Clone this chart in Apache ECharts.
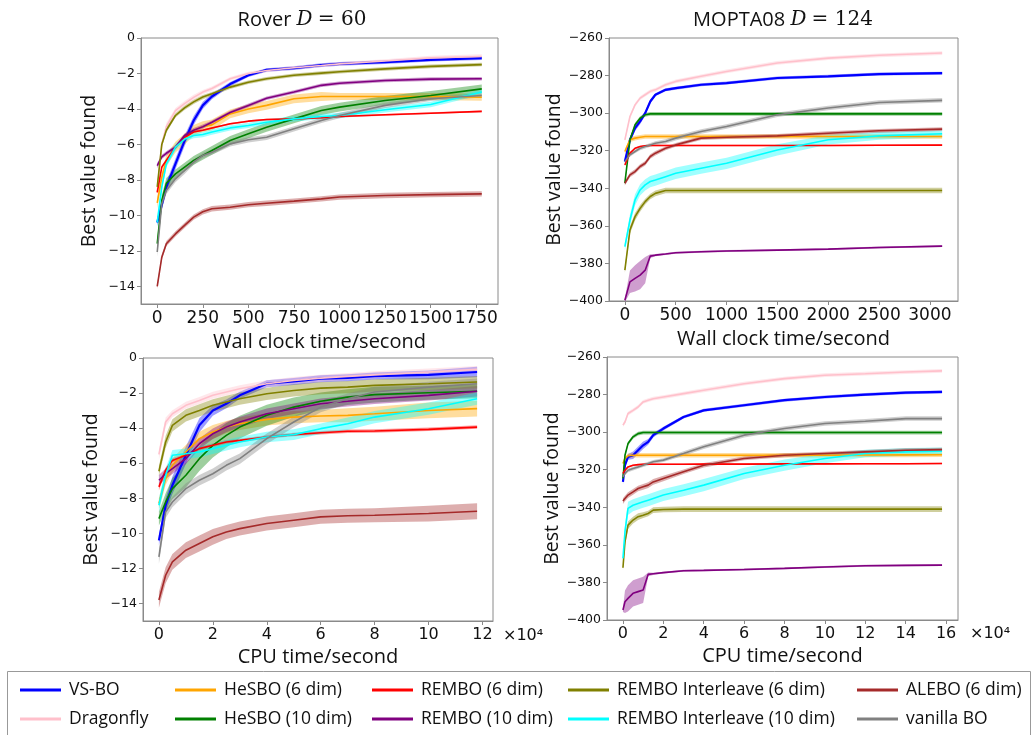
<!DOCTYPE html>
<html><head><meta charset="utf-8">
<script src="https://cdn.jsdelivr.net/npm/echarts@6/dist/echarts.min.js"></script>
<style>html,body{margin:0;padding:0;background:#fff}#c{width:1034px;height:735px}</style>
</head><body><div id="c"></div><script>
// ---------- names & colours ----------
const methodNames = ['VS-BO','Dragonfly','HeSBO (6 dim)','HeSBO (10 dim)','REMBO (6 dim)','REMBO (10 dim)','REMBO Interleave (6 dim)','REMBO Interleave (10 dim)','ALEBO (6 dim)','vanilla BO'];
const methodColors = ['#0000ff','#ffc0cb','#ffa500','#008000','#ff0000','#800080','#808000','#00ffff','#a52a2a','#808080'];

// ---------- Rover, wall clock ----------
const roverWallX = [0,25,50,100,150,200,250,300,400,500,600,750,900,1000,1250,1500,1780];
const roverWallMean = [
  [-10.4,-9.4,-8.4,-7.1,-5.8,-4.65,-3.8,-3.3,-2.6,-2.1,-1.8,-1.7,-1.53,-1.46,-1.36,-1.23,-1.14],
  [-8.7,-6.0,-5.0,-4.1,-3.7,-3.35,-3.05,-2.85,-2.3,-2.0,-1.83,-1.68,-1.55,-1.46,-1.3,-1.12,-1.04],
  [-9.3,-7.85,-6.9,-6.15,-5.7,-5.2,-5.0,-4.9,-4.28,-4.0,-3.8,-3.43,-3.3,-3.3,-3.3,-3.3,-3.34],
  [-11.6,-9.16,-8.2,-7.66,-7.28,-6.9,-6.62,-6.34,-5.78,-5.4,-5.03,-4.56,-4.09,-3.9,-3.52,-3.24,-2.87],
  [-8.7,-7.28,-6.9,-6.15,-5.6,-5.3,-5.2,-5.08,-4.84,-4.69,-4.6,-4.56,-4.5,-4.43,-4.33,-4.24,-4.14],
  [-7.2,-6.7,-6.5,-6.15,-5.5,-5.2,-5.0,-4.75,-4.2,-3.8,-3.4,-3.05,-2.67,-2.55,-2.4,-2.32,-2.3],
  [-8.4,-6.0,-5.2,-4.37,-3.94,-3.6,-3.33,-3.15,-2.77,-2.5,-2.3,-2.1,-1.98,-1.9,-1.74,-1.6,-1.5],
  [-10.4,-8.4,-7.1,-6.15,-5.7,-5.5,-5.44,-5.3,-5.07,-4.93,-4.75,-4.56,-4.43,-4.37,-4.05,-3.75,-3.05],
  [-14.0,-12.36,-11.6,-11.05,-10.57,-10.1,-9.8,-9.63,-9.54,-9.4,-9.32,-9.2,-9.07,-8.97,-8.88,-8.83,-8.79],
  [-12.07,-9.35,-8.6,-7.94,-7.47,-7.0,-6.62,-6.44,-5.97,-5.74,-5.6,-5.12,-4.65,-4.37,-3.8,-3.43,-3.24]
];
const roverWallSpread = [
  [0.2,0.3,0.3,0.3,0.3,0.25,0.2,0.15,0.12,0.1,0.1,0.1,0.1,0.1,0.1,0.1,0.1],
  [0.2,0.2,0.2,0.15,0.15,0.15,0.12,0.12,0.1,0.1,0.1,0.1,0.1,0.1,0.1,0.12,0.12],
  [0.3,0.3,0.3,0.3,0.3,0.3,0.3,0.3,0.25,0.25,0.25,0.25,0.25,0.2,0.2,0.2,0.2],
  [0.3,0.3,0.3,0.25,0.25,0.25,0.25,0.25,0.25,0.25,0.25,0.25,0.25,0.25,0.25,0.25,0.25],
  [0.1,0.1,0.08,0.06,0.06,0.05,0.05,0.05,0.05,0.05,0.05,0.05,0.05,0.05,0.05,0.05,0.05],
  [0.15,0.12,0.12,0.12,0.12,0.12,0.12,0.1,0.1,0.1,0.1,0.1,0.1,0.1,0.1,0.1,0.1],
  [0.15,0.15,0.15,0.12,0.12,0.12,0.12,0.1,0.1,0.1,0.1,0.1,0.1,0.1,0.1,0.1,0.1],
  [0.25,0.25,0.2,0.2,0.15,0.15,0.15,0.15,0.15,0.15,0.15,0.15,0.15,0.15,0.15,0.15,0.15],
  [0.15,0.15,0.15,0.15,0.15,0.15,0.15,0.15,0.15,0.15,0.15,0.15,0.15,0.15,0.15,0.15,0.15],
  [0.25,0.25,0.2,0.2,0.2,0.15,0.15,0.15,0.15,0.15,0.15,0.15,0.15,0.15,0.15,0.12,0.12]
];

// ---------- MOPTA08, wall clock ----------
const moptaWallX = [0,50,100,150,200,250,300,400,500,750,1000,1500,2000,2500,3120];
const moptaWallMean = [
  [-325.8,-314.2,-308,-304.4,-300,-293.8,-290.2,-287.6,-286.7,-284.9,-284,-281.3,-280.4,-279.2,-278.7],
  [-314.2,-301.8,-295.6,-292,-290.2,-288.4,-287.6,-284.9,-283.1,-280.4,-277.8,-273.3,-270.7,-269.2,-268],
  [-320.4,-314.2,-313.3,-312.8,-312.4,-312.4,-312.4,-312.4,-312.4,-312.4,-312.4,-312.4,-312.4,-312.4,-312.4],
  [-337.3,-314.2,-306.2,-302.7,-300.9,-300.4,-300.4,-300.4,-300.4,-300.4,-300.4,-300.4,-300.4,-300.4,-300.4],
  [-327.6,-321.3,-318.7,-317.8,-317.4,-317.2,-317.2,-317.2,-317.2,-317.2,-317.2,-317.2,-317.2,-317.1,-317.0],
  [-399.6,-389.8,-388,-386.2,-383.6,-376.1,-375.6,-375,-374.3,-373.8,-373.4,-372.9,-372.4,-371.5,-370.8],
  [-383.6,-362.2,-355.1,-350.7,-347.1,-344.4,-342.7,-341.2,-341.2,-341.2,-341.2,-341.2,-341.2,-341.2,-341.2],
  [-371.1,-356.9,-346.2,-340.9,-338.2,-336.4,-335.6,-333.8,-332,-329.3,-326.7,-319.6,-314.2,-312.1,-311],
  [-337.3,-332.9,-331.1,-328.4,-326.7,-323.1,-321.3,-318.7,-316.9,-313.3,-312.8,-312.1,-310.7,-309.4,-308.5],
  [-325.8,-322.2,-320.4,-318.7,-317.8,-316.9,-316,-315.1,-313.3,-309.8,-307.1,-300.9,-297.3,-294.3,-293.2]
];
const moptaWallSpread = [
  [1.5,1.5,1.5,1.5,1.2,1.0,0.8,0.8,0.8,0.8,0.8,0.8,0.8,0.8,0.8],
  [1.0,1.0,1.0,1.0,1.0,1.0,1.0,1.0,1.0,1.0,1.0,1.0,1.0,1.0,1.0],
  [1.2,1.2,1.2,1.2,1.2,1.2,1.2,1.2,1.2,1.2,1.2,1.2,1.2,1.2,1.2],
  [1.0,1.0,1.0,1.0,1.0,1.0,1.0,1.0,1.0,1.0,1.0,1.0,1.0,1.0,1.0],
  [0.5,0.4,0.4,0.4,0.4,0.4,0.4,0.4,0.4,0.4,0.4,0.4,0.4,0.4,0.4],
  [1.0,6.0,7.0,7.5,7.0,1.0,0.6,0.5,0.5,0.5,0.5,0.5,0.5,0.5,0.5],
  [1.5,2.0,2.0,1.8,1.5,1.5,1.5,1.5,1.5,1.5,1.5,1.5,1.5,1.5,1.5],
  [2.0,3.0,3.0,3.0,3.0,3.0,3.0,3.0,3.0,3.0,3.0,3.0,2.5,2.0,1.8],
  [1.2,1.2,1.2,1.2,1.2,1.2,1.2,1.0,1.0,1.0,1.0,1.0,1.0,1.0,1.0],
  [1.0,1.0,1.0,1.0,1.0,1.0,1.0,1.2,1.2,1.2,1.2,1.2,1.2,1.2,1.2]
];

// ---------- Rover, CPU time ----------
const roverCpuX = [0,2500,5000,10000,15000,20000,25000,30000,40000,50000,60000,70000,80000,100000,118000];
const roverCpuMean = [
  [-10.4,-8.4,-7.26,-5.55,-3.84,-2.99,-2.61,-2.13,-1.47,-1.34,-1.18,-1.13,-1.03,-0.96,-0.8],
  [-5.5,-3.65,-3.18,-2.7,-2.42,-2.13,-1.94,-1.75,-1.47,-1.28,-1.15,-1.05,-0.96,-0.8,-0.65],
  [-8.3,-6.88,-6.12,-5.36,-4.6,-4.22,-3.94,-3.75,-3.5,-3.37,-3.31,-3.27,-3.18,-2.99,-2.89],
  [-9.16,-8.21,-7.45,-6.69,-5.74,-4.98,-4.41,-3.94,-3.27,-2.8,-2.47,-2.23,-2.09,-1.98,-1.9],
  [-7.35,-6.4,-5.84,-5.55,-5.17,-4.98,-4.79,-4.7,-4.51,-4.37,-4.26,-4.18,-4.16,-4.07,-3.94],
  [-6.97,-6.6,-6.31,-5.74,-4.89,-4.32,-3.94,-3.65,-3.18,-2.89,-2.61,-2.47,-2.32,-2.13,-1.9],
  [-6.46,-4.79,-3.84,-3.27,-2.99,-2.7,-2.51,-2.32,-2.04,-1.85,-1.72,-1.66,-1.56,-1.47,-1.37],
  [-8.4,-6.69,-5.55,-5.46,-5.36,-5.17,-4.98,-4.79,-4.51,-4.37,-4.03,-3.75,-3.37,-2.89,-2.32],
  [-13.8,-12.39,-11.63,-10.96,-10.58,-10.2,-9.92,-9.73,-9.44,-9.25,-9.06,-9.0,-8.97,-8.87,-8.74],
  [-11.34,-8.78,-8.21,-7.45,-6.97,-6.6,-6.12,-5.74,-4.6,-3.65,-2.8,-2.32,-1.94,-1.66,-1.47]
];
const roverCpuSpread = [
  [0.3,0.4,0.5,0.5,0.4,0.3,0.25,0.2,0.2,0.2,0.2,0.2,0.2,0.25,0.3],
  [0.3,0.25,0.2,0.2,0.2,0.2,0.2,0.2,0.2,0.2,0.2,0.2,0.2,0.2,0.2],
  [0.3,0.35,0.4,0.4,0.4,0.4,0.35,0.35,0.35,0.35,0.35,0.4,0.4,0.45,0.45],
  [0.4,0.5,0.6,0.7,0.7,0.7,0.7,0.65,0.6,0.55,0.5,0.45,0.45,0.4,0.4],
  [0.2,0.15,0.12,0.1,0.1,0.1,0.1,0.1,0.1,0.1,0.1,0.1,0.1,0.1,0.1],
  [0.3,0.3,0.3,0.3,0.3,0.3,0.3,0.3,0.3,0.3,0.3,0.3,0.3,0.3,0.3],
  [0.3,0.35,0.35,0.35,0.35,0.35,0.35,0.35,0.35,0.35,0.35,0.35,0.35,0.35,0.35],
  [0.4,0.4,0.3,0.3,0.3,0.3,0.3,0.3,0.3,0.3,0.3,0.35,0.35,0.35,0.35],
  [0.45,0.45,0.45,0.45,0.45,0.45,0.4,0.4,0.4,0.4,0.4,0.4,0.4,0.45,0.45],
  [0.4,0.35,0.3,0.3,0.3,0.3,0.3,0.3,0.3,0.3,0.3,0.3,0.3,0.3,0.3]
];

// ---------- MOPTA08, CPU time ----------
const moptaCpuX = [0,1000,2500,5000,7500,10000,12500,15000,20000,30000,40000,60000,80000,100000,120000,140000,158000];
const moptaCpuMean = [
  [-326.5,-317.6,-313.2,-312.3,-309.6,-307,-305.2,-301.6,-298.1,-291.9,-288.4,-285.7,-283,-281.3,-280,-279,-278.6],
  [-296.3,-294.6,-290.1,-288.4,-286.6,-283.9,-283,-282.2,-281.3,-279.5,-277.7,-274.2,-271.5,-269.7,-268.9,-268,-267.4],
  [-316.7,-314,-312.6,-312.3,-312.3,-312.3,-312.3,-312.3,-312.3,-312.3,-312.3,-312.3,-312.3,-312.3,-312.2,-312.1,-312.0],
  [-324.7,-312.3,-306.1,-302.5,-300.8,-300.2,-300.2,-300.2,-300.2,-300.2,-300.2,-300.2,-300.2,-300.2,-300.2,-300.2,-300.2],
  [-322,-320.3,-318.5,-317.6,-317.3,-317.1,-317.1,-317.1,-317.1,-317.1,-317.0,-317.0,-316.9,-316.9,-316.8,-316.8,-316.7],
  [-394.7,-390.3,-388.5,-385.8,-384.9,-384,-375.7,-375.4,-374.8,-373.8,-373.6,-373.1,-372.5,-371.8,-371.1,-370.9,-370.8],
  [-372.2,-358.4,-349.5,-346.8,-345,-344.2,-343.3,-341.5,-341.2,-341,-341,-341,-341,-341,-341,-341,-341],
  [-367.2,-353,-340.6,-338.9,-338,-337.1,-336.2,-335.3,-333.5,-330.9,-328.2,-322,-317.6,-314,-311.4,-310.5,-310.2],
  [-336.7,-335.3,-333.5,-331.8,-330,-329.1,-328.2,-326.5,-324.7,-321.1,-317.6,-314,-312.3,-311.4,-310.5,-309.6,-309.3],
  [-323.8,-322,-320.3,-319.4,-318.5,-317.6,-316.7,-315.8,-314.9,-311.4,-307.8,-301.6,-298.1,-295.4,-294.2,-292.8,-292.8]
];
const moptaCpuSpread = [
  [1.5,1.5,1.5,2.0,2.0,2.0,1.5,1.2,1.0,0.8,0.8,0.8,0.8,0.8,0.8,0.8,0.8],
  [1.0,1.0,1.0,1.0,1.0,1.0,1.0,1.0,1.0,1.0,1.0,1.0,1.0,1.0,1.0,1.0,1.0],
  [1.2,1.2,1.2,1.2,1.2,1.2,1.2,1.2,1.2,1.2,1.2,1.2,1.2,1.2,1.2,1.2,1.2],
  [1.0,1.0,1.0,1.0,1.0,1.0,1.0,1.0,1.0,1.0,1.0,1.0,1.0,1.0,1.0,1.0,1.0],
  [0.5,0.4,0.4,0.4,0.4,0.4,0.4,0.4,0.4,0.4,0.4,0.4,0.4,0.4,0.4,0.4,0.4],
  [1.0,6.0,7.0,7.0,7.0,7.0,1.0,0.6,0.5,0.5,0.5,0.5,0.5,0.5,0.5,0.5,0.5],
  [1.5,2.0,2.0,1.8,1.8,1.5,1.5,1.5,1.5,1.5,1.5,1.5,1.5,1.5,1.5,1.5,1.5],
  [2.0,3.5,3.5,3.2,3.2,3.2,3.2,3.2,3.2,3.2,3.2,3.0,3.0,2.5,2.0,2.0,2.0],
  [1.5,1.5,1.5,1.5,1.5,1.5,1.5,1.5,1.5,1.2,1.2,1.0,1.0,1.0,1.0,1.0,1.0],
  [1.0,1.0,1.0,1.0,1.0,1.0,1.0,1.0,1.0,1.2,1.2,1.2,1.2,1.2,1.2,1.2,1.2]
];

// ---------- tick labels ----------
const roverWallTicks = [0,250,500,750,1000,1250,1500,1750];
const moptaWallTicks = [0,500,1000,1500,2000,2500,3000];
const roverCpuTicks = [0,20000,40000,60000,80000,100000,120000];
const moptaCpuTicks = [0,20000,40000,60000,80000,100000,120000,140000,160000];
const roverYTicks = [-14,-12,-10,-8,-6,-4,-2,0];
const moptaYTicks = [-400,-380,-360,-340,-320,-300,-280,-260];

// ---------- build ----------
const SPINE = '#8a8a8a';
const TXT = '#111';
const minusFmt = v => (v < 0 ? '\u2212' : '') + Math.abs(v);
const cpuFmt = v => String(Math.round(v / 10000));

const grids = [
  {left:141, top:38, width:357, height:266},
  {left:609, top:38, width:349, height:263},
  {left:143, top:358, width:350, height:263},
  {left:607, top:357, width:351, height:263}
];

function xAxisCfg(gi, min, max, ticks, fmt, name, nameGap, fs) {
  return {type:'value', gridIndex:gi, min:min, max:max, name:name, nameLocation:'middle', nameGap:nameGap,
    nameTextStyle:{fontFamily:'Open Sans', fontSize:20, color:TXT},
    axisLine:{show:true, onZero:false, lineStyle:{color:SPINE, width:1}},
    axisTick:{show:true, inside:false, length:4, customValues:ticks, lineStyle:{color:SPINE}},
    axisLabel:{customValues:ticks, formatter:fmt, margin:6, fontFamily:'DejaVu Sans', fontSize:fs, color:TXT},
    splitLine:{show:false}};
}
function yAxisCfg(gi, min, max, ticks) {
  return {type:'value', gridIndex:gi, min:min, max:max, name:'Best value found', nameLocation:'middle', nameGap:42, nameRotate:90,
    nameTextStyle:{fontFamily:'Open Sans', fontSize:19.5, color:TXT},
    axisLine:{show:true, onZero:false, lineStyle:{color:SPINE, width:1}},
    axisTick:{show:true, inside:false, length:4, customValues:ticks, lineStyle:{color:SPINE}},
    axisLabel:{customValues:ticks, formatter:minusFmt, margin:6, fontFamily:'DejaVu Sans', fontSize:12.5, color:TXT},
    splitLine:{show:false}};
}

const xAxes = [
  xAxisCfg(0, -89, 1869, roverWallTicks, v => String(v), 'Wall clock time/second', 28, 17),
  xAxisCfg(1, -156, 3276, moptaWallTicks, v => String(v), 'Wall clock time/second', 28, 17),
  xAxisCfg(2, -5900, 123900, roverCpuTicks, cpuFmt, 'CPU time/second', 26, 16),
  xAxisCfg(3, -7900, 165900, moptaCpuTicks, cpuFmt, 'CPU time/second', 26, 16)
];
const yAxes = [
  yAxisCfg(0, -15, 0, roverYTicks),
  yAxisCfg(1, -400, -260, moptaYTicks),
  yAxisCfg(2, -15, 0, roverYTicks),
  yAxisCfg(3, -400, -260, moptaYTicks)
];

const panels = [
  [roverWallX, roverWallMean, roverWallSpread],
  [moptaWallX, moptaWallMean, moptaWallSpread],
  [roverCpuX, roverCpuMean, roverCpuSpread],
  [moptaCpuX, moptaCpuMean, moptaCpuSpread]
];

const bandSeries = [];
const lineSeries = [];
panels.forEach(([xs, means, spreads], p) => {
  means.forEach((m, i) => {
    const c = methodColors[i];
    const rows = xs.map((x, j) => [x, m[j] - spreads[i][j], m[j] + spreads[i][j]]);
    bandSeries.push({
      type:'custom', xAxisIndex:p, yAxisIndex:p, silent:true, z:1, clip:true,
      encode:{x:0, y:[1,2]},
      data: rows,
      renderItem: function (params, api) {
        if (params.dataIndex !== 0) return null;
        const up = rows.map(r => api.coord([r[0], r[2]]));
        const lo = rows.map(r => api.coord([r[0], r[1]])).reverse();
        return {type:'polygon', shape:{points: up.concat(lo)}, style:{fill:c, opacity:0.38}};
      }
    });
    lineSeries.push({
      name: methodNames[i], type:'line', xAxisIndex:p, yAxisIndex:p, symbol:'none', showSymbol:false, z:3,
      itemStyle:{color:c}, lineStyle:{color:c, width: i === 0 ? 2.2 : 1.6},
      data: xs.map((x, j) => [x, m[j]])
    });
  });
});

const legendCols = [[0,1],[2,3],[4,5],[6,7],[8,9]];
const legendLeft = [20,175,372,568,857];
const legends = legendCols.map((col, k) => ({
  orient:'vertical', left:legendLeft[k], top:680, padding:0, itemGap:9, itemWidth:41, itemHeight:3, icon:'rect',
  selectedMode:false, data: col.map(i => methodNames[i]),
  textStyle:{fontFamily:'Open Sans', fontSize:17.5, color:TXT, lineHeight:20, padding:[0,0,0,3]}
}));

const titleRich = {
  i:{fontFamily:'DejaVu Serif', fontStyle:'italic', fontSize:20, fill:TXT, color:TXT},
  s:{fontFamily:'DejaVu Serif', fontSize:20, fill:TXT, color:TXT}
};

const chart = echarts.init(document.getElementById('c'), null, {renderer:'canvas'});
chart.setOption({
  animation:false,
  backgroundColor:'#fff',
  grid: grids.map(g => Object.assign({show:true, borderColor:SPINE, borderWidth:1, containLabel:false}, g)),
  xAxis: xAxes,
  yAxis: yAxes,
  legend: legends,
  series: bandSeries.concat(lineSeries),
  graphic: [
    {type:'rect', shape:{x:7.5, y:671.5, width:1023, height:70}, style:{fill:'none', stroke:'#999', lineWidth:1}, z:0},
    {type:'text', x:302, y:20, style:{text:'Rover {i|D} {s|= 60}', rich:titleRich, fontFamily:'Open Sans', fontSize:20, fill:TXT, align:'center', verticalAlign:'middle'}},
    {type:'text', x:783, y:20, style:{text:'MOPTA08 {i|D} {s|= 124}', rich:titleRich, fontFamily:'Open Sans', fontSize:20, fill:TXT, align:'center', verticalAlign:'middle'}},
    {type:'text', x:503, y:636, style:{text:'\u00d710\u2074', fontFamily:'DejaVu Sans', fontSize:16, fill:TXT, align:'left', verticalAlign:'middle'}},
    {type:'text', x:970, y:634, style:{text:'\u00d710\u2074', fontFamily:'DejaVu Sans', fontSize:16, fill:TXT, align:'left', verticalAlign:'middle'}}
  ]
});
</script></body></html>
